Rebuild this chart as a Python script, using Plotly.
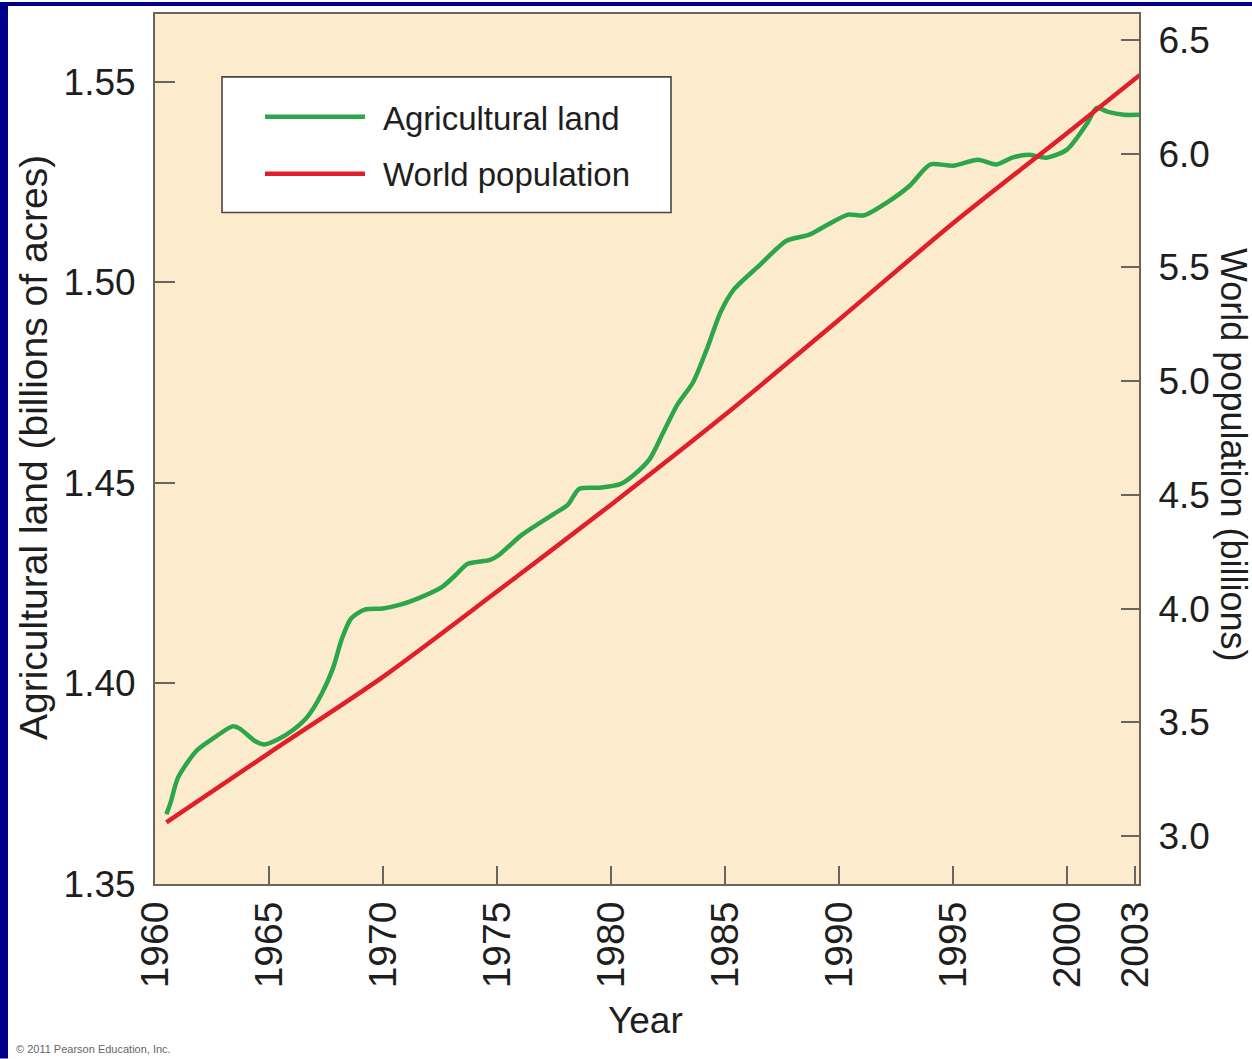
import plotly.graph_objects as go

# ---------------- data ----------------
land_years = [1960.5, 1960.7, 1961.0, 1961.8, 1962.5, 1963.4, 1963.7, 1964.4, 1964.8,
              1965.4, 1966.1, 1966.7, 1967.3, 1967.8, 1968.2, 1968.6, 1969.2, 1970.0,
              1970.8, 1971.7, 1972.6, 1973.2, 1973.7, 1974.7, 1975.1, 1976.1, 1977.5,
              1978.1, 1978.6, 1979.5, 1980.4, 1981.0, 1981.7, 1982.3, 1982.9, 1983.6,
              1984.2, 1984.8, 1985.4, 1986.5, 1987.7, 1988.7, 1989.5, 1990.4, 1991.1,
              1992.1, 1993.1, 1994.0, 1995.0, 1996.1, 1996.9, 1997.6, 1998.3, 1999.1,
              2000.0, 2000.9, 2001.3, 2001.8, 2002.5, 2003.2]
land_values = [1.3674, 1.3706, 1.3764, 1.3831, 1.3861, 1.3893, 1.3888, 1.3856, 1.3848,
               1.3861, 1.3886, 1.3918, 1.3973, 1.4037, 1.4112, 1.4162, 1.4184, 1.4187,
               1.4197, 1.4216, 1.4241, 1.4271, 1.4298, 1.4308, 1.4321, 1.4371, 1.4423,
               1.4445, 1.4485, 1.4488, 1.4497, 1.4520, 1.4560, 1.4627, 1.4694, 1.4751,
               1.4833, 1.4925, 1.4983, 1.5042, 1.5104, 1.5119, 1.5144, 1.5169, 1.5167,
               1.5199, 1.5241, 1.5294, 1.5291, 1.5306, 1.5294, 1.5311, 1.5318, 1.5311,
               1.5331, 1.5398, 1.5435, 1.5425, 1.5418, 1.5418]

pop_years = [1960.5, 1965, 1970, 1975, 1980, 1985, 1990, 1995, 2000, 2003.2]
pop_values = [3.06, 3.365, 3.70, 4.075, 4.457, 4.852, 5.27, 5.694, 6.09, 6.346]

x_ticks = [1960, 1965, 1970, 1975, 1980, 1985, 1990, 1995, 2000, 2003]
x_tick_labels = [str(v) for v in x_ticks]
land_ticks = [1.35, 1.40, 1.45, 1.50, 1.55]
land_tick_labels = ["1.35", "1.40", "1.45", "1.50", "1.55"]
pop_ticks = [3.0, 3.5, 4.0, 4.5, 5.0, 5.5, 6.0, 6.5]
pop_tick_labels = ["3.0", "3.5", "4.0", "4.5", "5.0", "5.5", "6.0", "6.5"]

series_names = ["Agricultural land", "World population"]

# ---------------- style ----------------
W, H = 1252, 1059
L, R, T, B = 155, 1139, 12, 884          # plot area in pixels
GREEN = "#2BA64A"
RED = "#E01F2B"
BG = "#FCEBCC"
AXIS = "#6B6458"
NAVY = "#00008B"
FONT = "Liberation Sans, Arial, Helvetica, sans-serif"
TXT = "#1E1E1E"


def px(x):
    return (x - L) / (R - L)


def py(y):
    return (B - y) / (B - T)


fig = go.Figure()
fig.add_trace(go.Scatter(x=land_years, y=land_values, mode="lines", name=series_names[0],
                         line=dict(color=GREEN, width=4.5, shape="spline", smoothing=0.7),
                         yaxis="y", showlegend=False))
fig.add_trace(go.Scatter(x=pop_years, y=pop_values, mode="lines", name=series_names[1],
                         line=dict(color=RED, width=4.5, shape="spline", smoothing=0.8),
                         yaxis="y2", showlegend=False))

ytickfont = dict(family=FONT, size=37, color=TXT)
xtickfont = dict(family=FONT, size=39, color=TXT)

fig.update_layout(
    width=W, height=H,
    margin=dict(l=L, r=W - R, t=T, b=H - B, pad=0),
    paper_bgcolor="white",
    plot_bgcolor=BG,
    xaxis=dict(range=[1960, 1960 + (R - L) / 22.8], tickmode="array", tickvals=x_ticks,
               ticktext=x_tick_labels, tickangle=-90, ticks="inside", ticklen=18,
               tickwidth=1.6, tickcolor=AXIS, showline=True, linecolor=AXIS, linewidth=2,
               mirror=True, showgrid=False, zeroline=False, tickfont=xtickfont,
               ticklabelstandoff=0),
    yaxis=dict(range=[1.35, 1.35 + (B - T) / 201 * 0.05], tickmode="array",
               tickvals=land_ticks, ticktext=land_tick_labels, ticks="inside", ticklen=20,
               tickwidth=1.6, tickcolor=AXIS, showline=True, linecolor=AXIS, linewidth=2,
               showgrid=False, zeroline=False, tickfont=ytickfont, ticklabelstandoff=10),
    yaxis2=dict(range=[3.0 - (B - 836) / 228, 3.0 - (B - 836) / 228 + (B - T) / 228],
                overlaying="y", side="right", tickmode="array", tickvals=pop_ticks,
                ticktext=pop_tick_labels, ticks="inside", ticklen=18, tickwidth=1.6,
                tickcolor=AXIS, showline=True, linecolor=AXIS, linewidth=2,
                showgrid=False, zeroline=False, tickfont=ytickfont, ticklabelstandoff=10),
)

shapes = [
    # navy frame strips (left and top)
    dict(type="rect", xref="paper", yref="paper", x0=px(0), x1=px(8), y0=py(H), y1=py(0),
         fillcolor=NAVY, line=dict(width=0), layer="above"),
    dict(type="rect", xref="paper", yref="paper", x0=px(0), x1=px(W), y0=py(4), y1=py(0),
         fillcolor=NAVY, line=dict(width=0), layer="above"),
    # legend box
    dict(type="rect", xref="paper", yref="paper", x0=px(222), x1=px(671), y0=py(211), y1=py(75),
         fillcolor="white", line=dict(color="#4A4640", width=1.6), layer="above"),
    dict(type="line", xref="paper", yref="paper", x0=px(265), x1=px(365), y0=py(115), y1=py(115),
         line=dict(color=GREEN, width=4.5), layer="above"),
    dict(type="line", xref="paper", yref="paper", x0=px(265), x1=px(365), y0=py(172), y1=py(172),
         line=dict(color=RED, width=4.5), layer="above"),
]

annotations = [
    dict(text=series_names[0], xref="paper", yref="paper", x=px(381), y=py(117),
         xanchor="left", yanchor="middle", showarrow=False,
         font=dict(family=FONT, size=33, color=TXT)),
    dict(text=series_names[1], xref="paper", yref="paper", x=px(381), y=py(173),
         xanchor="left", yanchor="middle", showarrow=False,
         font=dict(family=FONT, size=33, color=TXT)),
    dict(text="Agricultural land (billions of acres)", xref="paper", yref="paper",
         x=px(33), y=py(447), xanchor="center", yanchor="middle", textangle=-90,
         showarrow=False, font=dict(family=FONT, size=39, color=TXT)),
    dict(text="World population (billions)", xref="paper", yref="paper",
         x=px(1233), y=py(454), xanchor="center", yanchor="middle", textangle=90,
         showarrow=False, font=dict(family=FONT, size=36, color=TXT)),
    dict(text="Year", xref="paper", yref="paper", x=px(645), y=py(1021),
         xanchor="center", yanchor="middle", showarrow=False,
         font=dict(family=FONT, size=37, color=TXT)),
    dict(text="© 2011 Pearson Education, Inc.", xref="paper", yref="paper",
         x=px(14), y=py(1049), xanchor="left", yanchor="middle", showarrow=False,
         font=dict(family=FONT, size=11, color="#666666")),
]

fig.update_layout(shapes=shapes, annotations=annotations)

fig.write_html(
    "out.html",
    config={"displayModeBar": False},
    post_script="document.documentElement.style.margin='0';"
                "document.body.style.margin='0';"
                "document.body.style.overflow='hidden';",
)
